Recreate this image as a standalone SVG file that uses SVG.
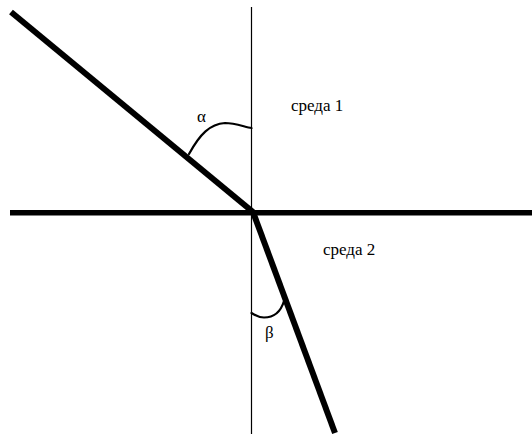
<svg xmlns="http://www.w3.org/2000/svg" width="532" height="436" viewBox="0 0 532 436">
<style>
.thin{stroke:#000;stroke-width:1.2;fill:none}
.thick{stroke:#000;stroke-width:6;fill:none}
.bound{stroke:#000;stroke-width:5.5;fill:none}
.arc{stroke:#000;stroke-width:2.2;fill:none;stroke-linecap:round}
.lbl{font-family:"Liberation Serif","Times New Roman",serif;font-size:17px;fill:#000}
</style>
<rect width="532" height="436" fill="#fff"/>
<g id="connectors">
<line id="normal" class="thin" x1="251.5" y1="7" x2="251.5" y2="434"/>
<line id="boundary" class="bound" x1="10" y1="212.8" x2="532" y2="212.8"/>
<line id="incident" class="thick" x1="11" y1="12" x2="253" y2="212"/>
<line id="refracted" class="thick" x1="253" y1="212" x2="335" y2="433"/>
</g>
<g id="angle-alpha">
<path class="arc" d="M189 154 C200 134 210 124 225 123 C235 123 245 127 251.5 128"/>
<text class="lbl" x="197" y="122">α</text>
</g>
<g id="angle-beta">
<path class="arc" d="M251.5 313 C256 316 260 317.5 264 317.5 C275 317.5 281 311 284 301"/>
<text class="lbl" x="265" y="338">β</text>
</g>
<g id="medium1"><text class="lbl" x="291" y="111">среда 1</text></g>
<g id="medium2"><text class="lbl" x="323" y="255">среда 2</text></g>
</svg>
